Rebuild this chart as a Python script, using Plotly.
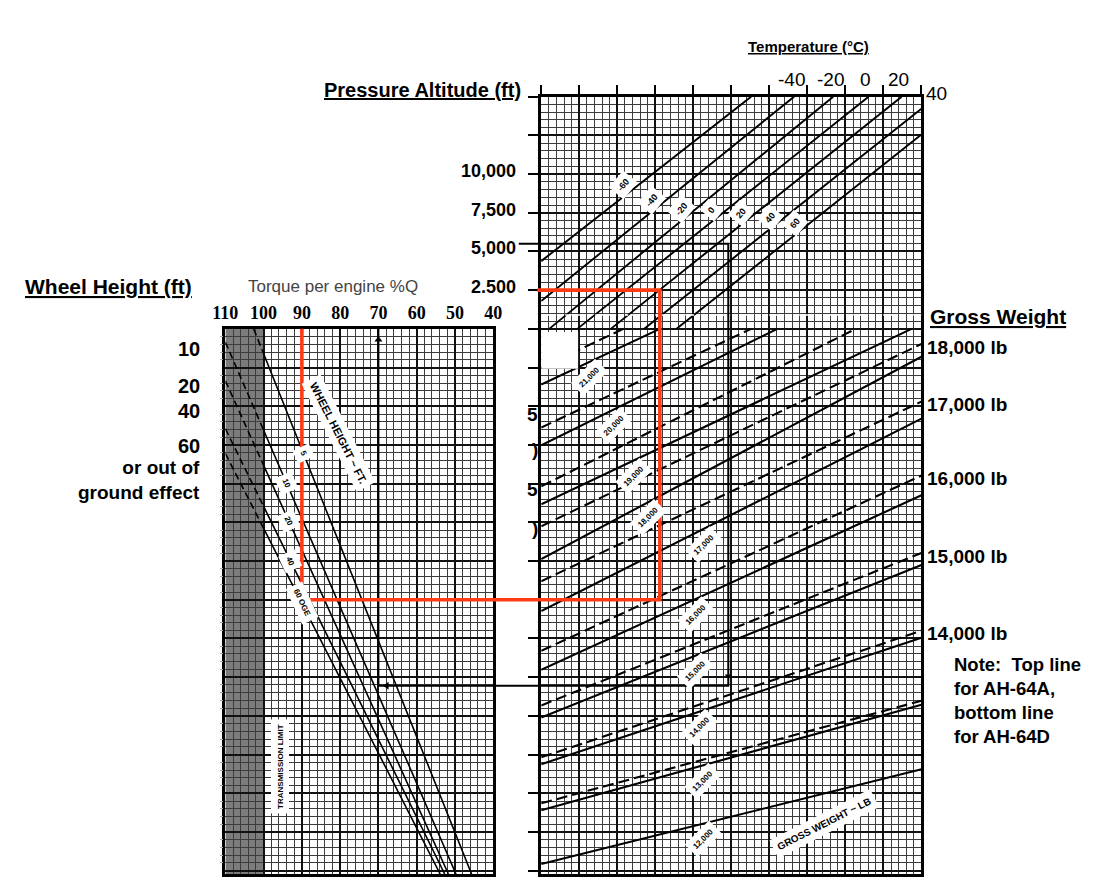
import plotly.graph_objects as go

# ---------------- chart values ----------------
# torque per engine scale (%Q) of the left panel
torque_ticks = [110, 100, 90, 80, 70, 60, 50, 40]

# pressure altitude scale (ft) of the upper right section
pa_ticks = [10000, 7500, 5000, 2500]
pa_tick_text = ["10,000", "7,500", "5,000", "2.500"]

# free air temperature scale along the top (deg C)
temp_scale_values = [-40, -20, 0, 20, 40]

# temperature lines: (grid x, pressure altitude ft) at both ends
temperatures = [-60, -40, -20, 0, 20, 40, 60]
temp_x_start = [0.0, 0.0, 0.21, 0.95, 1.83, 2.71, 3.56]
temp_pa_start = [4375, 1800, 0, 0, 0, 0, 0]
temp_x_end = [5.52, 6.65, 7.68, 8.61, 9.48, 10.0, 10.0]
temp_pa_end = [15000, 15000, 15000, 15000, 15000, 14225, 12550]

# gross weight lines (lb); y in chart units, lines start on the left edge (x = 0)
gross_weights = [12000, 13000, 14000, 15000, 16000, 17000, 18000, 19000, 20000, 21000]
# AH-64D (solid)
gw_d_y_start = [0.17, 1.56, 2.75, 3.96, 5.19, 6.71, 8.05, 9.47, 10.99, 12.56]
gw_d_x_end = [10, 10, 10, 10, 10, 10, 10, 9.74, 6.21, 3.12]
gw_d_y_end = [2.62, 4.29, 6.02, 7.90, 9.70, 11.68, 13.28, 14.0, 14.0, 14.0]
# AH-64A (dashed)
gw_a_y_start = [None, 1.74, 2.93, 4.27, 5.68, 7.48, 8.90, 9.93, 11.45, 13.0]
gw_a_x_end = [None, 10, 10, 10, 10, 10, 10, 8.27, 5.52, 2.16]
gw_a_y_end = [None, 4.39, 6.20, 8.21, 10.21, 12.12, 13.61, 14.0, 14.0, 14.0]
gw_side_labels = [18000, 17000, 16000, 15000, 14000]

# wheel height lines: (torque %, chart y) at both ends
wheel_heights = ["5", "10", "20", "40", "60 OGE"]
wh_torque_start = [102.6, 110.0, 110.0, 110.0, 110.0]
wh_y_start = [14.0, 13.66, 12.66, 11.42, 10.78]
wh_torque_end = [46.0, 50.1, 52.1, 53.1, 54.3]
wh_y_end = [0.0, 0.0, 0.0, 0.0, 0.0]
transmission_limit = 100

# worked examples: pressure altitude, turn point on the right panel, torque read-out
red_example = dict(pa=2500, x_turn=3.12, y_turn=7.0, torque=90)
black_example = dict(pa=5500, x_turn=4.92, y_turn=4.78, torque=70)

# ---------------- page geometry ----------------
W, H = 1099, 877
LX0, LX1 = 216.7, 490.0          # left panel edges (px)
RX0, RX1 = 539.0, 927.0          # right panel edges (px)
TOP_R, TOP_L = 97.0, 330.0       # panel tops (px)
Y_TOP_R, Y_TOP_L = 20.0, 14.0    # chart units at the panel tops
UNIT = (TOP_L - TOP_R) / (Y_TOP_R - Y_TOP_L)
Y_BOTTOM = Y_TOP_R - (H - TOP_R) / UNIT
T_MAX, T_MIN = 110, 40
SANS = "Liberation Sans, Arial, sans-serif"
SERIF = "Liberation Serif, Times New Roman, serif"
RED = "#ff3b14"

# label placement along the lines (grid x / chart y)
TEMP_LABEL_X = [2.16, 2.91, 3.69, 4.48, 5.26, 6.01, 6.68]
GW_LABEL_X = [4.28, 4.23, 4.15, 4.07, 4.07, 4.28, 2.81, 2.42, 1.91, 1.26]
WH_LABEL_Y = [10.78, 10.01, 9.03, 8.0, 6.92]


def pa_to_y(pa):
    return Y_TOP_L + pa / 2500.0


def left_paper_x(torque):
    return (LX0 + (T_MAX - torque) / (T_MAX - T_MIN) * (LX1 - LX0)) / W


def right_paper_x(u):
    return (RX0 + u / 10.0 * (RX1 - RX0)) / W


def lerp(x0, y0, x1, y1, x):
    return y0 + (x - x0) * (y1 - y0) / (x1 - x0)


fig = go.Figure()


def add_lines(segments, xaxis, yaxis, width, dash=None, color="black"):
    xs, ys = [], []
    for (x0, y0, x1, y1) in segments:
        xs += [x0, x1, None]
        ys += [y0, y1, None]
    fig.add_trace(go.Scatter(x=xs, y=ys, mode="lines", xaxis=xaxis, yaxis=yaxis,
                             line=dict(color=color, width=width, dash=dash),
                             hoverinfo="skip", showlegend=False))


# temperature lines
temp_segments = [(temp_x_start[i], pa_to_y(temp_pa_start[i]), temp_x_end[i], pa_to_y(temp_pa_end[i]))
                 for i in range(len(temperatures))]
add_lines(temp_segments, "x2", "y2", 1.9)

# gross weight lines
d_segments = [(0, gw_d_y_start[i], gw_d_x_end[i], gw_d_y_end[i]) for i in range(len(gross_weights))]
a_segments = [(0, gw_a_y_start[i], gw_a_x_end[i], gw_a_y_end[i]) for i in range(len(gross_weights))
              if gw_a_y_start[i] is not None]
add_lines(d_segments, "x2", "y2", 2.1)
add_lines(a_segments, "x2", "y2", 2.1, dash="11px,5px")

# wheel height lines: dashed beyond the transmission limit
wh_solid, wh_dashed = [], []
for i in range(len(wheel_heights)):
    t0, y0, t1, y1 = wh_torque_start[i], wh_y_start[i], wh_torque_end[i], wh_y_end[i]
    t_bottom = lerp(y0, t0, y1, t1, Y_BOTTOM)
    if t0 > transmission_limit:
        y_lim = lerp(t0, y0, t1, y1, transmission_limit)
        wh_dashed.append((t0, y0, transmission_limit, y_lim))
        wh_solid.append((transmission_limit, y_lim, t_bottom, Y_BOTTOM))
    else:
        wh_solid.append((t0, y0, t_bottom, Y_BOTTOM))
add_lines(wh_solid, "x", "y", 1.6)
add_lines(wh_dashed, "x", "y", 1.6, dash="7px,4px")

# shaded region beyond the transmission limit
fig.add_shape(type="rect", xref="x", yref="y", x0=T_MAX, x1=transmission_limit,
              y0=Y_BOTTOM, y1=Y_TOP_L, fillcolor="#7c7c7c", line_width=0, layer="below")

# white patch and dotted break in the right panel
fig.add_shape(type="rect", xref="x2", yref="y2", x0=-0.2, x1=0.97, y0=12.97, y1=13.92,
              fillcolor="white", line_width=0, layer="above")
fig.add_shape(type="line", xref="x2", yref="y2", x0=0, x1=10, y0=14.36, y1=14.36,
              line=dict(color="white", width=1.5, dash="dot"), layer="above")


def example_path(ex, start_u, color, width):
    y_pa = pa_to_y(ex["pa"])
    pts = [(right_paper_x(start_u), y_pa),
           (right_paper_x(ex["x_turn"]), y_pa),
           (right_paper_x(ex["x_turn"]), ex["y_turn"]),
           (left_paper_x(ex["torque"]), ex["y_turn"]),
           (left_paper_x(ex["torque"]), Y_TOP_L)]
    path = "M " + " L ".join(f"{x:.5f},{y:.4f}" for x, y in pts)
    fig.add_shape(type="path", path=path, xref="paper", yref="y2",
                  line=dict(color=color, width=width), layer="above")


example_path(black_example, -0.59, "black", 2.0)
example_path(red_example, -0.1, RED, 3.6)

# arrowheads on the black example
fig.add_trace(go.Scatter(x=[black_example["torque"], black_example["torque"] - 2.2],
                         y=[Y_TOP_L - 0.28, black_example["y_turn"]],
                         mode="markers", xaxis="x", yaxis="y",
                         marker=dict(symbol=["triangle-up", "triangle-left"], size=7, color="black"),
                         hoverinfo="skip", showlegend=False))
fig.add_trace(go.Scatter(x=[black_example["x_turn"]], y=[black_example["y_turn"] + 0.25],
                         mode="markers", xaxis="x2", yaxis="y2",
                         marker=dict(symbol="triangle-down", size=6, color="black"),
                         hoverinfo="skip", showlegend=False))


def inline_label(text, x, y, xref, yref, angle, size=9):
    fig.add_annotation(text=f"<b>{text}</b>", x=x, y=y, xref=xref, yref=yref, showarrow=False,
                       textangle=angle, bgcolor="white", borderpad=4,
                       font=dict(size=size, color="black", family=SANS))


# labels on temperature lines
for i, t in enumerate(temperatures):
    x = TEMP_LABEL_X[i]
    y = lerp(temp_segments[i][0], temp_segments[i][1], temp_segments[i][2], temp_segments[i][3], x) + 0.3
    inline_label(str(t), x, y, "x2", "y2", -50)

# labels on gross weight lines
for i, w in enumerate(gross_weights):
    x = GW_LABEL_X[i]
    y = lerp(0, gw_d_y_start[i], gw_d_x_end[i], gw_d_y_end[i], x) - 0.4
    inline_label(f"{w:,}", x, y, "x2", "y2", -45, size=8)
inline_label("GROSS WEIGHT ~ LB", 7.45, 1.23, "x2", "y2", -27, size=10)

# labels on wheel height lines
for i, name in enumerate(wheel_heights):
    y = WH_LABEL_Y[i]
    x = lerp(wh_y_start[i], wh_torque_start[i], wh_y_end[i], wh_torque_end[i], y)
    inline_label(name, x, y, "x", "y", 65, size=8)
inline_label("WHEEL HEIGHT ~ FT.", 80.5, 11.3, "x", "y", 63, size=11)
inline_label("TRANSMISSION LIMIT", 95.8, 2.7, "x", "y", -90, size=8)


def note(text, xpx, ypx, size=20, anchor="center", bold=True, underline=False,
         color="black", family=SANS):
    t = text
    if underline:
        t = f"<u>{t}</u>"
    if bold:
        t = f"<b>{t}</b>"
    fig.add_annotation(text=t, x=xpx / W, y=1 - ypx / H, xref="paper", yref="paper",
                       xanchor=anchor, yanchor="middle", align=anchor, showarrow=False,
                       font=dict(size=size, color=color, family=family))


# titles
note("Temperature (°C)", 812, 47, size=15, underline=True)
note("Pressure Altitude (ft)", 520, 90, size=20, anchor="right", underline=True)
note("Wheel Height (ft)", 10, 287, size=21, anchor="left", underline=True)
note("Torque per engine %Q", 238, 287, size=17, anchor="left", bold=False, color="#444")
note("Gross Weight", 934, 318, size=21, anchor="left", underline=True)

# pressure altitude scale
for pa, txt in zip(pa_ticks, pa_tick_text):
    fig.add_annotation(text=f"<b>{txt}</b>", x=(RX0 - 24) / W, y=pa_to_y(pa) + 0.08,
                       xref="paper", yref="y2", xanchor="right", yanchor="middle",
                       showarrow=False, font=dict(size=18, color="black", family=SANS))

# temperature scale along the top
for v in temp_scale_values:
    i = temperatures.index(v)
    if temp_pa_end[i] >= 15000:
        fig.add_annotation(text=str(v), x=right_paper_x(temp_x_end[i]) - 3 / W, y=1 - 80 / H,
                           xref="paper", yref="paper", xanchor="center", yanchor="middle",
                           showarrow=False, font=dict(size=19, color="black", family=SANS))
    else:
        fig.add_annotation(text=str(v), x=(RX1 + 3) / W, y=1 - 94 / H, xref="paper", yref="paper",
                           xanchor="left", yanchor="middle", showarrow=False,
                           font=dict(size=19, color="black", family=SANS))

# gross weight scale on the right, at the ends of the AH-64A lines
for w in gw_side_labels:
    i = gross_weights.index(w)
    fig.add_annotation(text=f"<b>{w:,} lb</b>", x=(RX1 + 4) / W, y=gw_a_y_end[i] - 0.08,
                       xref="paper", yref="y2", xanchor="left", yanchor="middle",
                       showarrow=False, font=dict(size=19, color="black", family=SANS))

# wheel height scale on the left
note("10", 193, 350, anchor="right")
note("20", 193, 387, anchor="right")
note("40", 193, 412, anchor="right")
note("60", 193, 448, anchor="right")
note("or out of<br>ground effect", 193, 482, size=19, anchor="right")

# note on the line styles
note("Note:  Top line<br>for AH-64A,<br>bottom line<br>for AH-64D", 958, 703, size=18.5,
     anchor="left")

# clipped scale remnants left of the lower right panel
for txt, ypx in [("5", 416), (")", 451), ("5", 491), (")", 530)]:
    note(txt, 538, ypx, size=19, anchor="right")

major = dict(showgrid=True, gridcolor="#111", gridwidth=2, zeroline=False,
             showline=True, mirror=True, linecolor="black", linewidth=2.5)
minor_grid = dict(showgrid=True, gridcolor="#3c3c3c", gridwidth=1)

fig.update_layout(
    width=W, height=H, margin=dict(l=0, r=0, t=0, b=0),
    paper_bgcolor="white", plot_bgcolor="white", showlegend=False, hovermode=False,
    xaxis=dict(domain=[LX0 / W, LX1 / W], range=[T_MAX, T_MIN], anchor="y", side="top",
               tickmode="array", tickvals=torque_ticks,
               ticktext=[f"<b>{t}</b>" for t in torque_ticks], tickangle=0,
               tickfont=dict(family=SERIF, size=18, color="black"), ticks="",
               minor=dict(dtick=2, tick0=0, **minor_grid), **major),
    yaxis=dict(domain=[0, (H - TOP_L) / H], range=[Y_BOTTOM, Y_TOP_L], anchor="x",
               dtick=1, tick0=0, showticklabels=False, ticks="",
               minor=dict(dtick=0.2, tick0=0, ticks="outside", ticklen=3, tickcolor="#aaa",
                          **minor_grid), **major),
    xaxis2=dict(domain=[RX0 / W, RX1 / W], range=[0, 10], anchor="y2", side="top",
                dtick=1, tick0=0, showticklabels=False, ticks="outside", ticklen=9,
                tickwidth=1.5, tickcolor="black",
                minor=dict(dtick=0.2, tick0=0, **minor_grid), **major),
    yaxis2=dict(domain=[0, (H - TOP_R) / H], range=[Y_BOTTOM, Y_TOP_R], anchor="x2",
                dtick=1, tick0=0, showticklabels=False, ticks="outside", ticklen=10,
                tickwidth=2, tickcolor="black",
                minor=dict(dtick=0.2, tick0=0, **minor_grid), **major),
)

fig.write_html("out.html", config={"displayModeBar": False})
